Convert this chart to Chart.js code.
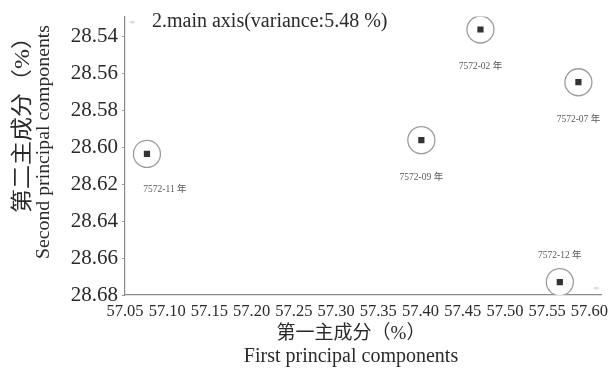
<!DOCTYPE html>
<html>
<head>
<meta charset="utf-8">
<script src="https://cdn.jsdelivr.net/npm/chart.js@4/dist/chart.umd.min.js"></script>
<style>
  html, body { margin: 0; padding: 0; background: #ffffff; }
  canvas { display: block; }
</style>
</head>
<body>
<canvas id="pca" width="616" height="378"></canvas>
<script>
// Samples and their scores on the first two principal components (%)
const sampleNames = ['7572-11 年', '7572-09 年', '7572-02 年', '7572-07 年', '7572-12 年'];
const firstComponent = [57.076, 57.401, 57.471, 57.587, 57.565];
const secondComponent = [28.6035, 28.596, 28.536, 28.5646, 28.673];

// Axis tick labels
const xTickValues = [57.05, 57.10, 57.15, 57.20, 57.25, 57.30, 57.35, 57.40, 57.45, 57.50, 57.55, 57.60];
const yTickValues = [28.54, 28.56, 28.58, 28.60, 28.62, 28.64, 28.66, 28.68];

const SERIF = '"Liberation Serif", "Noto Sans CJK SC", serif';
const points = firstComponent.map((x, i) => ({ x: x, y: secondComponent[i] }));

// Where each sample name sits relative to its marker
const nameOffset = {
  '7572-11 年': { dx: 18, dy: 36 },
  '7572-12 年': { dx: 0, dy: -27 }
};

const annotationsPlugin = {
  id: 'pcaAnnotations',
  afterDatasetsDraw(chart) {
    const ctx = chart.ctx;
    const area = chart.chartArea;
    const meta = chart.getDatasetMeta(0);
    ctx.save();
    // sample names
    ctx.fillStyle = '#5a5a5a';
    ctx.font = '9.5px ' + SERIF;
    ctx.textAlign = 'center';
    ctx.textBaseline = 'middle';
    meta.data.forEach((el, i) => {
      const name = sampleNames[i];
      const off = nameOffset[name] || { dx: 0, dy: 37 };
      ctx.fillText(name, el.x + off.dx, el.y + off.dy);
    });
    // in-plot heading
    ctx.fillStyle = '#2a2a2a';
    ctx.font = '20px ' + SERIF;
    ctx.textAlign = 'left';
    ctx.textBaseline = 'alphabetic';
    ctx.fillText('2.main axis(variance:5.48 %)', area.left + 27, area.top + 10);
    // small corner marks
    ctx.fillStyle = '#b0b0b0';
    ctx.font = '5px ' + SERIF;
    ctx.textAlign = 'center';
    ctx.textBaseline = 'middle';
    ctx.fillText('up', area.left + 7, area.top + 5);
    ctx.fillText('up', area.right - 5, area.bottom - 7);
    ctx.restore();
  },
  afterDraw(chart) {
    const ctx = chart.ctx;
    ctx.save();
    ctx.fillStyle = '#2a2a2a';
    ctx.textBaseline = 'middle';
    // x axis title (two lines)
    const cx = 351;
    ctx.textAlign = 'center';
    ctx.font = '19px ' + SERIF;
    ctx.fillText('第一主成分（%）', cx, 334);
    ctx.font = '20px ' + SERIF;
    ctx.fillText('First principal components', cx, 357);
    // y axis title (two rotated lines)
    ctx.save();
    ctx.translate(23, 25);
    ctx.rotate(-Math.PI / 2);
    ctx.scale(1, 0.88);
    ctx.textAlign = 'right';
    ctx.font = '24px ' + SERIF;
    ctx.fillText('第二主成分（%）', 0, 0);
    ctx.restore();
    ctx.save();
    ctx.translate(44, 25);
    ctx.rotate(-Math.PI / 2);
    ctx.textAlign = 'right';
    ctx.font = '19.8px ' + SERIF;
    ctx.fillText('Second principal components', 0, 0);
    ctx.restore();
    ctx.restore();
  }
};

new Chart(document.getElementById('pca'), {
  type: 'scatter',
  data: {
    datasets: [
      {
        // ring around each sample
        data: points,
        order: 2,
        pointStyle: 'circle',
        pointRadius: 13.5,
        pointHoverRadius: 13.5,
        pointBackgroundColor: '#ffffff',
        pointBorderColor: '#9c9c9c',
        pointBorderWidth: 1.3
      },
      {
        // dark core marker
        data: points,
        order: 1,
        pointStyle: 'rect',
        pointRadius: 4.4,
        pointHoverRadius: 4.4,
        pointBackgroundColor: '#333333',
        pointBorderColor: '#333333',
        pointBorderWidth: 0
      }
    ]
  },
  options: {
    responsive: false,
    animation: false,
    events: [],
    layout: { padding: { left: 0, right: 13, top: 13, bottom: 0 } },
    plugins: {
      legend: { display: false },
      tooltip: { enabled: false },
      title: { display: false }
    },
    scales: {
      x: {
        type: 'linear',
        min: 57.05,
        max: 57.614,
        afterBuildTicks(scale) { scale.ticks = xTickValues.map(v => ({ value: v })); },
        afterFit(scale) { scale.height = 83; },
        grid: { display: true, drawOnChartArea: false, drawTicks: false },
        border: { display: true, color: '#8a8a8a', width: 1.2 },
        ticks: {
          autoSkip: false,
          maxRotation: 0,
          padding: 7,
          color: '#2a2a2a',
          font: { family: SERIF, size: 16.5 },
          callback: v => Number(v).toFixed(2)
        }
      },
      y: {
        type: 'linear',
        reverse: true,
        min: 28.529,
        max: 28.68,
        afterBuildTicks(scale) { scale.ticks = yTickValues.map(v => ({ value: v })); },
        afterFit(scale) { scale.width = 125; },
        grid: { display: true, drawOnChartArea: false, drawTicks: true, tickLength: 3, color: '#9a9a9a' },
        border: { display: true, color: '#8a8a8a', width: 1.2 },
        ticks: {
          autoSkip: false,
          padding: 4,
          color: '#2a2a2a',
          font: { family: SERIF, size: 21 },
          callback: v => Number(v).toFixed(2)
        }
      }
    }
  },
  plugins: [annotationsPlugin]
});
</script>
</body>
</html>
